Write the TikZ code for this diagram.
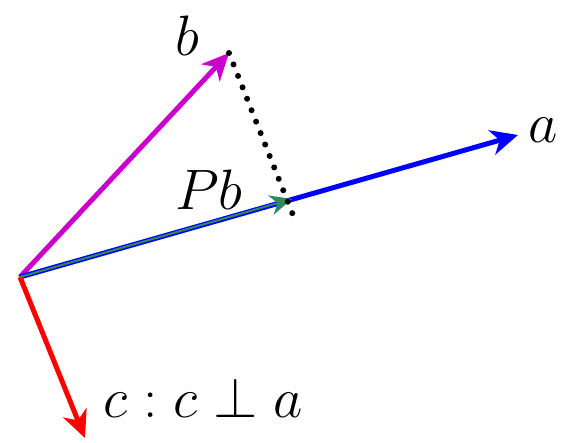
\RequirePackage{fix-cm}
\documentclass[tikz,border=0pt]{standalone}
\usetikzlibrary{arrows.meta}
\definecolor{vmag}{RGB}{204,0,204}
\definecolor{vgreen}{RGB}{46,139,87}
\tikzset{
  vec/.style={line width=5pt,-{Stealth[length=27pt,width=25pt,inset=8pt]}},
  lbl/.style={inner sep=0pt,font=\fontsize{57}{66}\selectfont},
}
\begin{document}
\begin{tikzpicture}[x=1pt,y=-1pt]
\useasboundingbox (0,0) rectangle (567,443);
\coordinate (O) at (20,277);
\coordinate (A) at (518,135);
\coordinate (B) at (229,53);
\coordinate (C) at (85,438);
\coordinate (P) at (292,199);
\coordinate (D) at (293,215);
\draw[vec,vmag] (O) -- (B);
\draw[vec,blue] (O) -- (A);
\draw[vec,red] (O) -- (C);
\draw[line width=2pt,vgreen,-{Stealth[length=22pt,width=20pt,inset=7pt]}] (O) -- (P);
\draw[line width=6pt,line cap=round,dash pattern=on 0pt off 12.3pt] (B) -- (D);
\node[lbl] (lb) at (187,36) {$b$};
\node[lbl] (la) at (543,130) {$a$};
\node[lbl] (lpb) at (209,190) {$Pb$};
\node[lbl] (lc) at (203,398) {$c : c \perp a$};
\end{tikzpicture}
\end{document}
